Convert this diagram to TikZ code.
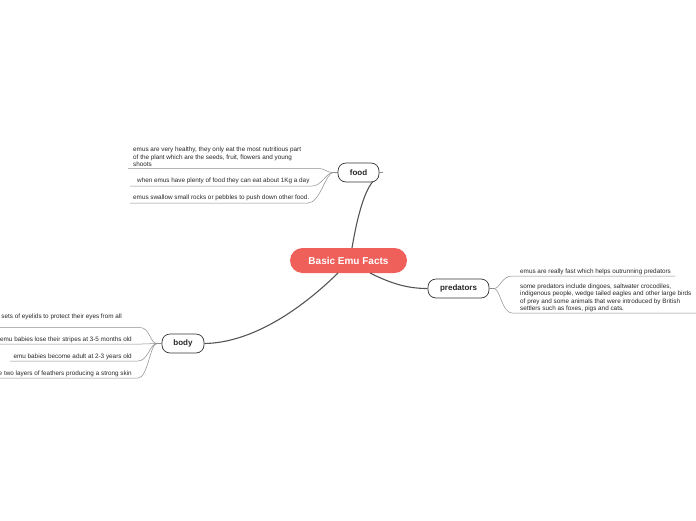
\documentclass[tikz,border=0pt]{standalone}
\usepackage{fontspec}
\setmainfont{Liberation Sans}
\definecolor{emured}{RGB}{240,96,90}
\definecolor{mainline}{RGB}{85,85,85}
\definecolor{leafline}{RGB}{140,140,140}
\begin{document}
\begin{tikzpicture}[x=1pt,y=-1pt,
  topic/.style={draw=black!80,line width=0.7pt,rounded corners=8pt,fill=white,
    minimum height=19pt,inner sep=0pt,font=\fontsize{8}{9}\selectfont\bfseries,text=black!85},
  central/.style={fill=emured,rounded corners=12.5pt,minimum width=117pt,minimum height=25pt,
    inner sep=0pt,font=\fontsize{10}{12}\selectfont\bfseries,text=white},
  leaf/.style={inner sep=0pt,font=\fontsize{6.35}{7.4}\selectfont,text=black!85,align=left},
  mainconn/.style={draw=mainline,line width=1.1pt},
  leafconn/.style={draw=leafline,line width=0.5pt}]
\useasboundingbox (0,0) rectangle (696,520);
% nodes
\node[central] (c) at (348.5,260.5) {Basic Emu Facts};
\node[topic,minimum width=41pt] (food) at (358.5,172.5) {food};
\node[topic,minimum width=61pt] (pred) at (458.5,288.5) {predators};
\node[topic,minimum width=42pt] (body) at (183,343.5) {body};
% main connectors
\coordinate (cf) at (352,248);
\coordinate (cb) at (338,273);
\coordinate (cp) at (370,273);
\coordinate (fb) at (372.5,182);
\draw[mainconn] (cf) .. controls (357,218) and (364,192) .. (fb);
\draw[mainconn] (cb) .. controls (292,318) and (245,343) .. (body.east);
\draw[mainconn] (cp) .. controls (392,284) and (408,288.5) .. (pred.west);
\coordinate (fstub) at (383,172.5);
\draw[leafconn,line width=0.6pt] (food.east) -- (fstub);
% food leaves
\node[leaf,anchor=west] (f1) at (133,157) {emus are very healthy, they only eat the most nutritious part\\of the plant which are the seeds, fruit, flowers and young\\shoots};
\node[leaf,anchor=west] (f2) at (137,180.5) {when emus have plenty of food they can eat about 1Kg a day};
\node[leaf,anchor=west] (f3) at (133,197.5) {emus swallow small rocks or pebbles to push down other food.};
\coordinate (fj) at (333,172.5);
\draw[leafconn] (food.west) -- (fj);
\draw[leafconn] (fj) .. controls (326,172.5) and (326,168.5) .. (318,168.5) -- (128,168.5);
\draw[leafconn] (fj) .. controls (326,172.5) and (322,186) .. (312,186) -- (130,186);
\draw[leafconn] (fj) .. controls (326,172.5) and (320,203) .. (308,203) -- (130,203);
% predator leaves
\node[leaf,anchor=west] (p1) at (520,271.5) {emus are really fast which helps outrunning predators};
\node[leaf,anchor=west] (p2) at (520,298) {some predators include dingoes, saltwater crocodiles,\\indigenous people, wedge tailed eagles and other large birds\\of prey and some animals that were introduced by British\\settlers such as foxes, pigs and cats.};
\coordinate (pj) at (494,288.5);
\draw[leafconn] (pred.east) -- (pj);
\draw[leafconn] (pj) .. controls (500,288.5) and (502,276) .. (512,276) -- (675,276);
\draw[leafconn] (pj) .. controls (500,288.5) and (502,313) .. (512,313) -- (696,313);
% body leaves
\node[leaf,anchor=east] (b1) at (122,316.5) {sets of eyelids to protect their eyes from all};
\node[leaf,anchor=east] (b2) at (132,339.5) {emu babies lose their stripes at 3-5 months old};
\node[leaf,anchor=east] (b3) at (132,356.5) {emu babies become adult at 2-3 years old};
\node[leaf,anchor=east] (b4) at (132,373.5) {e two layers of feathers producing a strong skin};
\coordinate (bj) at (157,343.5);
\draw[leafconn] (body.west) -- (bj);
\draw[leafconn] (bj) .. controls (150,343.5) and (150,327.5) .. (140,327.5) -- (0,327.5);
\draw[leafconn] (bj) .. controls (150,343.5) and (150,344) .. (142,344) -- (0,344);
\draw[leafconn] (bj) .. controls (150,343.5) and (148,361) .. (138,361) -- (10,361);
\draw[leafconn] (bj) .. controls (150,343.5) and (148,378) .. (138,378) -- (0,378);
\end{tikzpicture}
\end{document}
